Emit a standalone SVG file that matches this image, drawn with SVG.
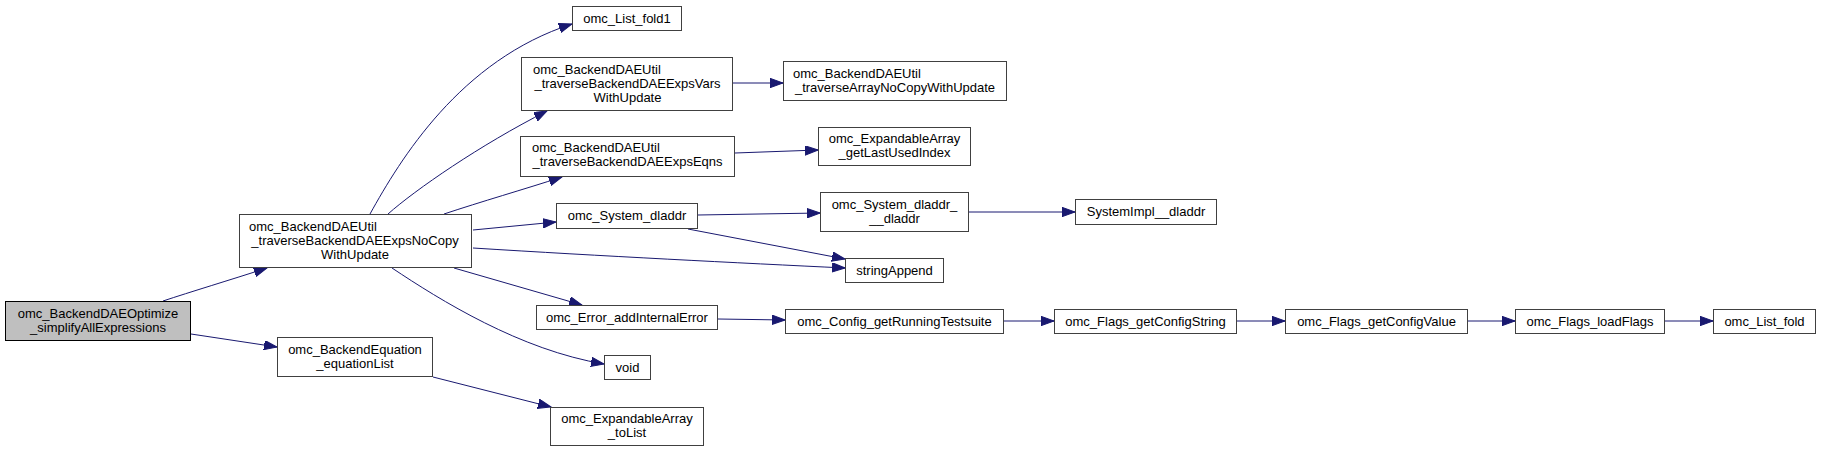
<svg xmlns="http://www.w3.org/2000/svg" width="1821" height="453" viewBox="0 0 1821 453">
<style>
.n rect{fill:#ffffff;stroke:#404040;stroke-width:1}
.n.root rect{fill:#bfbfbf;stroke:#000000}
text{font-family:"Liberation Sans",Arial,Helvetica,sans-serif;font-size:13px;fill:#000000}
.m{text-anchor:middle}
.s{text-anchor:start}
.e path{fill:none;stroke:#191970;stroke-width:1;marker-end:url(#ah)}
</style>
<defs>
<marker id="ah" markerUnits="userSpaceOnUse" markerWidth="14" markerHeight="10" refX="13" refY="4.7" orient="auto">
<path d="M0,0 L13,4.7 L0,9.4 z" fill="#191970" stroke="#191970" stroke-width="1"/>
</marker>
</defs>
<rect x="0" y="0" width="1821" height="453" fill="#ffffff"/>
<g id="edges" class="e">
<path d="M163,301 C190,292 230,280 267,268"/>
<path d="M191,334 L277,347"/>
<path d="M370,214 C400,160 460,60 572,24"/>
<path d="M388,214 C415,190 480,145 547,111"/>
<path d="M444,214 C480,202 525,189 562,177"/>
<path d="M473,230 L556,222"/>
<path d="M473,248 C600,256 740,263 845,268"/>
<path d="M454,268 L582,305"/>
<path d="M392,268 C440,300 520,350 604,364"/>
<path d="M433,377 L551,407"/>
<path d="M733,83 L783,83"/>
<path d="M735,153 L818,150"/>
<path d="M698,215 L820,213"/>
<path d="M688,229 L845,259"/>
<path d="M969,212 L1075,212"/>
<path d="M718,319 L785,320"/>
<path d="M1004,321 L1054,321"/>
<path d="M1237,321 L1285,321"/>
<path d="M1468,321 L1515,321"/>
<path d="M1665,321 L1713,321"/>
</g>
<g id="node1" class="n root"><rect x="5.5" y="301.5" width="185" height="39"/><text class="m" x="98" y="318">omc_BackendDAEOptimize</text><text class="m" x="98" y="332">_simplifyAllExpressions</text></g>
<g id="node2" class="n"><rect x="239.5" y="214.5" width="232" height="53"/><text class="s" x="249" y="231">omc_BackendDAEUtil</text><text class="m" x="355" y="245">_traverseBackendDAEExpsNoCopy</text><text class="m" x="355" y="259">WithUpdate</text></g>
<g id="node3" class="n"><rect x="277.5" y="337.5" width="155" height="39"/><text class="m" x="355" y="354">omc_BackendEquation</text><text class="m" x="355" y="368">_equationList</text></g>
<g id="node4" class="n"><rect x="572.5" y="6.5" width="109" height="24"/><text class="m" x="627" y="23">omc_List_fold1</text></g>
<g id="node5" class="n"><rect x="521.5" y="57.5" width="211" height="53"/><text class="s" x="533" y="74">omc_BackendDAEUtil</text><text class="m" x="627.5" y="88">_traverseBackendDAEExpsVars</text><text class="m" x="627.5" y="102">WithUpdate</text></g>
<g id="node6" class="n"><rect x="520.5" y="136.5" width="214" height="40"/><text class="s" x="532" y="152">omc_BackendDAEUtil</text><text class="m" x="627.5" y="166">_traverseBackendDAEExpsEqns</text></g>
<g id="node7" class="n"><rect x="556.5" y="203.5" width="141" height="25"/><text class="m" x="627" y="220">omc_System_dladdr</text></g>
<g id="node8" class="n"><rect x="845.5" y="258.5" width="98" height="24"/><text class="m" x="894.5" y="275">stringAppend</text></g>
<g id="node9" class="n"><rect x="536.5" y="305.5" width="181" height="24"/><text class="m" x="627" y="322">omc_Error_addInternalError</text></g>
<g id="node10" class="n"><rect x="604.5" y="355.5" width="46" height="24"/><text class="m" x="627.5" y="372">void</text></g>
<g id="node11" class="n"><rect x="550.5" y="407.5" width="153" height="38"/><text class="m" x="627" y="423">omc_ExpandableArray</text><text class="m" x="627" y="437">_toList</text></g>
<g id="node12" class="n"><rect x="783.5" y="61.5" width="223" height="39"/><text class="s" x="793" y="78">omc_BackendDAEUtil</text><text class="m" x="895" y="92">_traverseArrayNoCopyWithUpdate</text></g>
<g id="node13" class="n"><rect x="818.5" y="127.5" width="152" height="38"/><text class="m" x="894.5" y="143">omc_ExpandableArray</text><text class="m" x="894.5" y="157">_getLastUsedIndex</text></g>
<g id="node14" class="n"><rect x="820.5" y="192.5" width="148" height="39"/><text class="m" x="894.5" y="209">omc_System_dladdr_</text><text class="m" x="894.5" y="223">__dladdr</text></g>
<g id="node15" class="n"><rect x="1075.5" y="199.5" width="141" height="25"/><text class="m" x="1146" y="216">SystemImpl__dladdr</text></g>
<g id="node16" class="n"><rect x="785.5" y="309.5" width="218" height="24"/><text class="m" x="894.5" y="326">omc_Config_getRunningTestsuite</text></g>
<g id="node17" class="n"><rect x="1054.5" y="309.5" width="182" height="24"/><text class="m" x="1145.5" y="326">omc_Flags_getConfigString</text></g>
<g id="node18" class="n"><rect x="1285.5" y="309.5" width="182" height="24"/><text class="m" x="1376.5" y="326">omc_Flags_getConfigValue</text></g>
<g id="node19" class="n"><rect x="1515.5" y="309.5" width="149" height="24"/><text class="m" x="1590" y="326">omc_Flags_loadFlags</text></g>
<g id="node20" class="n"><rect x="1713.5" y="309.5" width="102" height="24"/><text class="m" x="1764.5" y="326">omc_List_fold</text></g>
</svg>
